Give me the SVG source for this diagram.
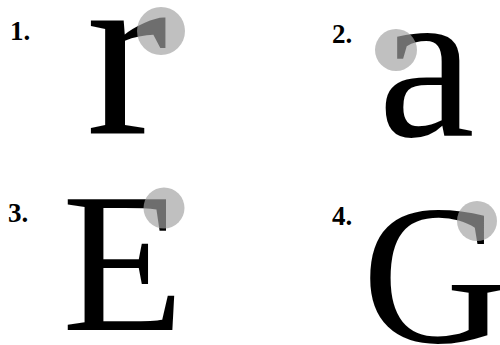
<svg xmlns="http://www.w3.org/2000/svg" width="500" height="345" viewBox="0 0 500 345">
<style>
.lab{font-family:"Liberation Serif","Times New Roman",serif;font-weight:bold;font-size:27px;fill:#000}
.big{font-family:"Liberation Serif","Times New Roman",serif;fill:#000}
.hl{fill:#a2a2a2;fill-opacity:0.68}
</style>
<rect width="500" height="345" fill="#fff"/>
<g id="n1">
<text class="lab" x="10" y="40">1.</text>
<text class="big" x="86" y="133" font-size="245">r</text>
<circle class="hl" cx="161" cy="31" r="24"/>
</g>
<g id="n2">
<text class="lab" x="332" y="43">2.</text>
<text class="big" x="378" y="136" font-size="218">a</text>
<circle class="hl" cx="396" cy="50" r="21"/>
</g>
<g id="n3">
<text class="lab" x="8" y="222">3.</text>
<text class="big" x="62" y="330" font-size="200">E</text>
<circle class="hl" cx="164" cy="208" r="20.5"/>
</g>
<g id="n4">
<text class="lab" x="332" y="225">4.</text>
<text class="big" x="362" y="342" font-size="200">G</text>
<circle class="hl" cx="477" cy="221" r="20"/>
</g>
</svg>
